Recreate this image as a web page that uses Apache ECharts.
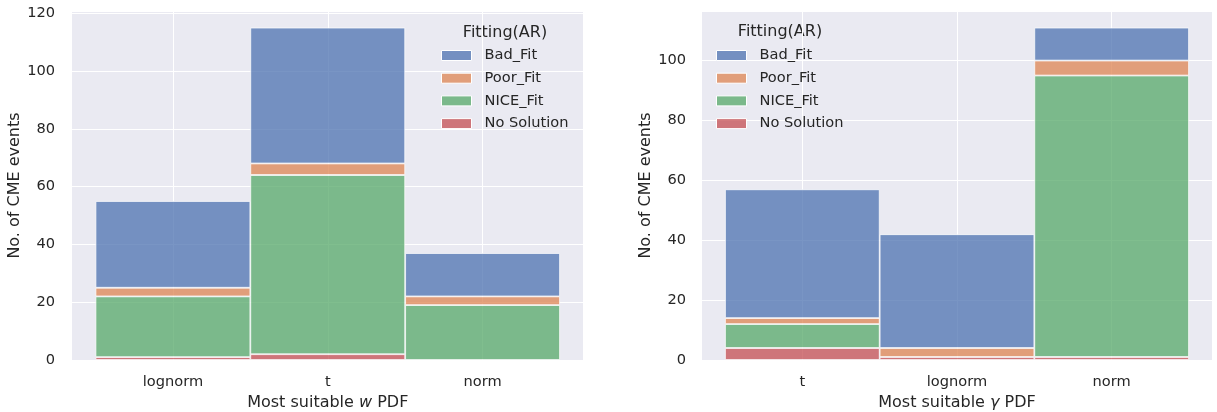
<!DOCTYPE html>
<html>
<head>
<meta charset="utf-8">
<script src="https://cdn.jsdelivr.net/npm/echarts@6/dist/echarts.min.js"></script>
<style>
  html, body { margin: 0; padding: 0; background: #ffffff; }
  #chart { width: 1217px; height: 412px; }
</style>
</head>
<body>
<div id="chart"></div>
<script>
// ---- data ----
const categoriesW = ['lognorm', 't', 'norm'];
const categoriesG = ['t', 'lognorm', 'norm'];
const fitNames = ['Bad_Fit', 'Poor_Fit', 'NICE_Fit', 'No Solution'];
const legendTitle = 'Fitting(AR)';
const yAxisTitle = 'No. of CME events';

// left panel (w PDF)
const wNoSolution = [1, 2, 0];
const wNice = [21, 62, 19];
const wPoor = [3, 4, 3];
const wBad = [30, 47, 15];

// right panel (gamma PDF)
const gNoSolution = [4, 1, 1];
const gNice = [8, 0, 94];
const gPoor = [2, 3, 5];
const gBad = [43, 38, 11];

const yMaxW = 120.75;
const yMaxG = 116.55;
const yInterval = 20;

// ---- style ----
const FONT = 'DejaVu Sans';
const TXT = '#262626';
const BG = '#eaeaf2';
const colors = {
  'Bad_Fit': 'rgba(76,114,176,0.75)',
  'Poor_Fit': 'rgba(221,132,82,0.75)',
  'NICE_Fit': 'rgba(85,168,104,0.75)',
  'No Solution': 'rgba(196,78,82,0.75)'
};

function clean(arr) { return arr.map(v => (v === 0 ? null : v)); }

function makeSeries(xIdx, yIdx, stack, cats, parts) {
  // parts: bottom -> top
  return parts.map((p, i) => {
    const s = {
      name: p.name,
      type: 'bar',
      stack: stack,
      xAxisIndex: xIdx,
      yAxisIndex: yIdx,
      barWidth: '100%',
      barCategoryGap: '0%',
      data: clean(p.data),
      itemStyle: { color: colors[p.name], borderColor: 'rgba(255,255,255,0.9)', borderWidth: 0.8 },
      emphasis: { disabled: true },
      z: 3
    };
    if (i === 0) {
      s.markLine = {
        silent: true,
        symbol: 'none',
        z: 1,
        label: { show: false },
        lineStyle: { color: '#ffffff', width: 1, type: 'solid' },
        emphasis: { disabled: true },
        data: cats.map(c => ({ xAxis: c }))
      };
    }
    return s;
  });
}

const chart = echarts.init(document.getElementById('chart'), null, { renderer: 'canvas' });

function backY(gridIndex, max, nameGap, labelMargin) {
  return {
    gridIndex: gridIndex,
    type: 'value',
    min: 0,
    max: max,
    interval: yInterval,
    name: yAxisTitle,
    nameLocation: 'middle',
    nameGap: nameGap,
    nameTextStyle: { fontFamily: FONT, fontSize: 16, color: TXT },
    axisLine: { show: false },
    axisTick: { show: false },
    axisLabel: {
      fontFamily: FONT, fontSize: 14.6, color: TXT, margin: labelMargin,
      formatter: v => (v % yInterval === 0 ? String(v) : '')
    },
    splitLine: { show: true, lineStyle: { color: '#ffffff', width: 1 } }
  };
}
function frontY(gridIndex, max) {
  return { gridIndex: gridIndex, type: 'value', min: 0, max: max, show: false, splitLine: { show: false } };
}
function backX(gridIndex) {
  return { gridIndex: gridIndex, type: 'value', min: 0, max: 1, show: false, splitLine: { show: false } };
}
function frontX(gridIndex, cats, symbol) {
  return {
    gridIndex: gridIndex,
    type: 'category',
    data: cats,
    boundaryGap: true,
    name: 'Most suitable {i|' + symbol + '} PDF',
    nameLocation: 'middle',
    nameGap: 34,
    nameTextStyle: {
      fontFamily: FONT, fontSize: 16, color: TXT,
      rich: { i: { fontFamily: FONT, fontSize: 16, fontStyle: 'italic', color: TXT } }
    },
    axisLine: { show: false },
    axisTick: { show: false },
    axisLabel: { fontFamily: FONT, fontSize: 14.6, color: TXT, margin: 15 },
    splitLine: { show: false }
  };
}

function legendFor(left, top) {
  return {
    orient: 'vertical',
    left: left,
    top: top,
    padding: 0,
    data: fitNames,
    itemWidth: 30,
    itemHeight: 10,
    itemGap: 6.7,
    icon: 'rect',
    selectedMode: false,
    textStyle: { fontFamily: FONT, fontSize: 14.6, color: TXT, lineHeight: 16, padding: [0, 0, 0, 8] },
    itemStyle: { borderColor: '#ffffff', borderWidth: 1 }
  };
}

const gridBase = { top: 11, bottom: 52, outerBoundsMode: 'none', containLabel: false };
const option = {
  animation: false,
  backgroundColor: '#ffffff',
  grid: [
    Object.assign({ left: 72, right: 1217 - 583, show: true, backgroundColor: BG, borderWidth: 0, z: 0 }, gridBase),
    Object.assign({ left: 95.5, right: 1217 - 560 }, gridBase),
    Object.assign({ left: 702, right: 5, show: true, backgroundColor: BG, borderWidth: 0, z: 0 }, gridBase),
    Object.assign({ left: 725, right: 28 }, gridBase)
  ],
  xAxis: [backX(0), frontX(1, categoriesW, 'w'), backX(2), frontX(3, categoriesG, 'γ')],
  yAxis: [backY(0, yMaxW, 47, 17), frontY(1, yMaxW), backY(2, yMaxG, 47, 16), frontY(3, yMaxG)],
  legend: [legendFor(441, 47.5), legendFor(716, 47.5)],
  graphic: [
    { type: 'text', x: 505, y: 33, style: { text: legendTitle, align: 'center', verticalAlign: 'middle', font: '16px "DejaVu Sans"', fill: TXT } },
    { type: 'text', x: 780, y: 32, style: { text: legendTitle, align: 'center', verticalAlign: 'middle', font: '16px "DejaVu Sans"', fill: TXT } }
  ],
  series: [].concat(
    makeSeries(1, 1, 'w', categoriesW, [
      { name: 'No Solution', data: wNoSolution },
      { name: 'NICE_Fit', data: wNice },
      { name: 'Poor_Fit', data: wPoor },
      { name: 'Bad_Fit', data: wBad }
    ]),
    makeSeries(3, 3, 'g', categoriesG, [
      { name: 'No Solution', data: gNoSolution },
      { name: 'NICE_Fit', data: gNice },
      { name: 'Poor_Fit', data: gPoor },
      { name: 'Bad_Fit', data: gBad }
    ])
  )
};
chart.setOption(option);
</script>
</body>
</html>
